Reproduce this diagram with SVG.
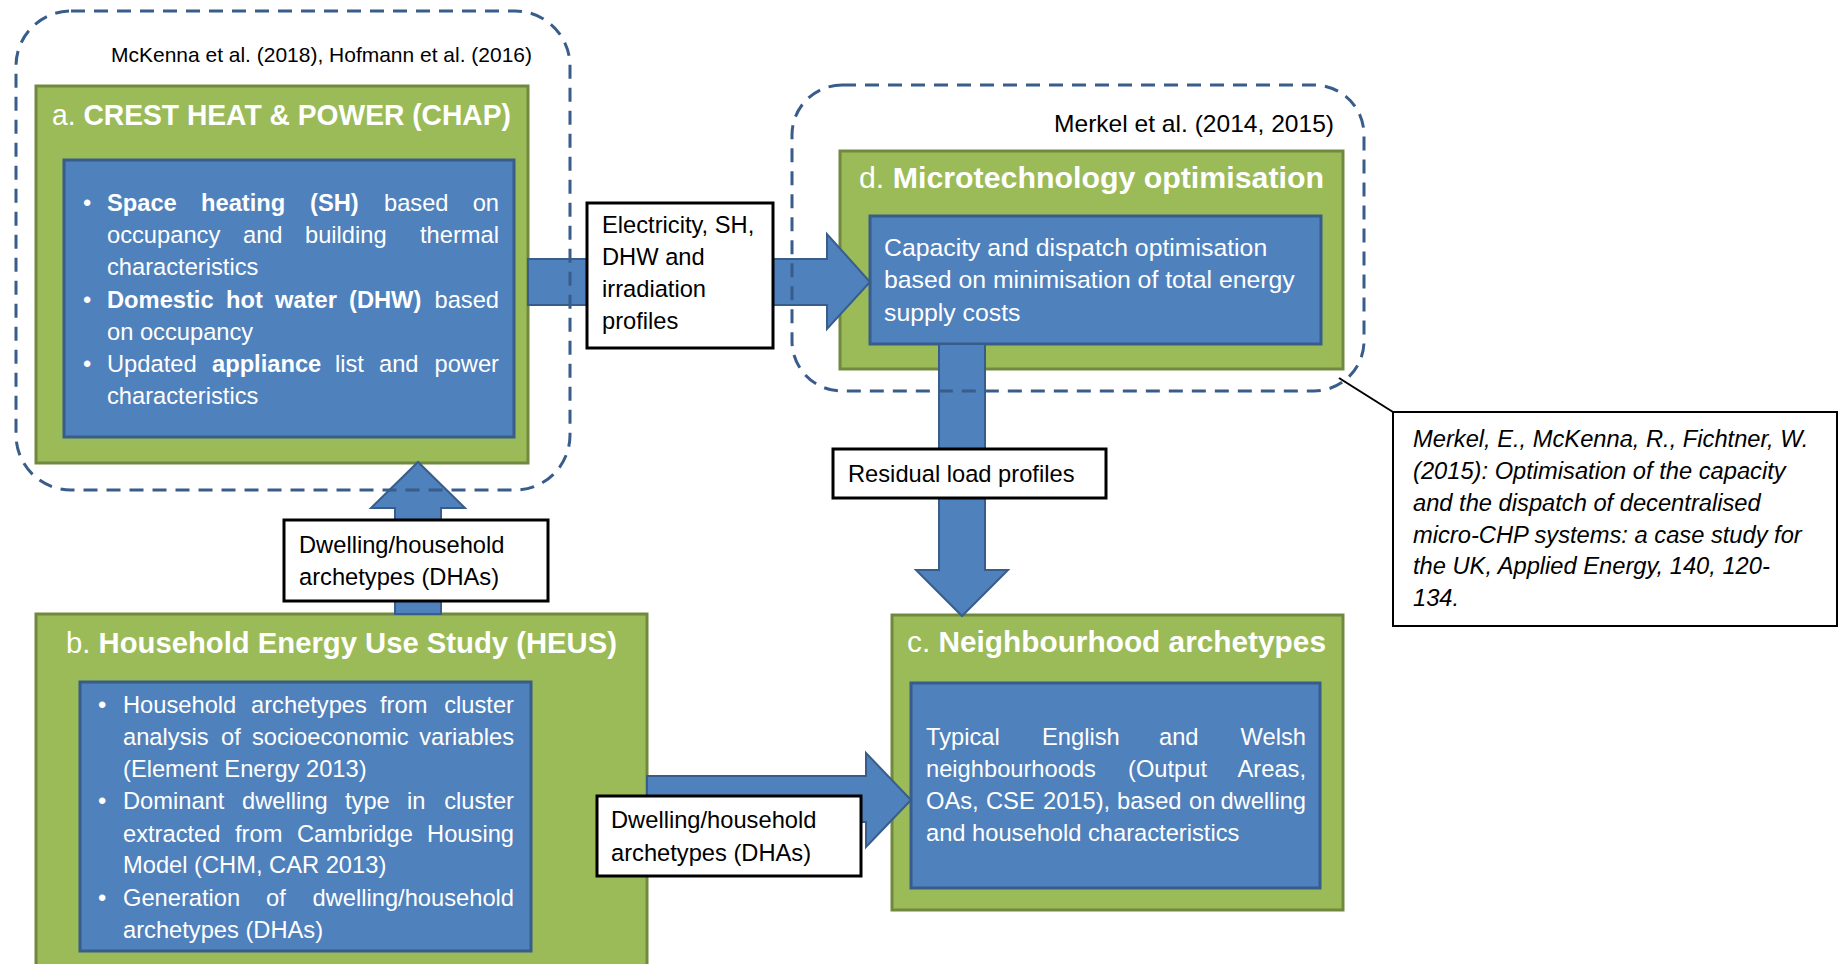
<svg xmlns="http://www.w3.org/2000/svg" width="1839" height="964" viewBox="0 0 1839 964">
<style>
.green{fill:#9BBB59;stroke:#71893F;stroke-width:3}
.blue{fill:#4F81BD;stroke:#385D8A;stroke-width:3}
.frame{fill:none;stroke:#385D8A;stroke-width:3;stroke-dasharray:14 9}
.lbl{fill:#fff;stroke:#000;stroke-width:3}
.ref{fill:#fff;stroke:#000;stroke-width:2}
.arrow{fill:#4F81BD;stroke:#385D8A;stroke-width:2;stroke-linejoin:miter}
text{font-family:"Liberation Sans",Arial,sans-serif}
.w{fill:#fff;font-size:23.7px}
.k{fill:#000;font-size:23.7px}
.t{fill:#fff;font-size:30px}
.b{font-weight:bold}
.it{font-style:italic}
.e{text-anchor:end}
</style>
<rect width="1839" height="964" fill="#fff"/>

<!-- Node a -->
<g id="node-a">
  <rect class="green" x="36" y="86" width="492" height="377"/>
  <text class="t" x="52" y="125" textLength="459" lengthAdjust="spacingAndGlyphs">a. <tspan class="b">CREST HEAT &amp; POWER (CHAP)</tspan></text>
  <rect class="blue" x="64" y="160" width="450" height="277"/>
  <text class="w" x="83" y="211">•</text>
  <text class="w" y="211"><tspan class="b" x="107">Space</tspan><tspan class="b" x="201">heating</tspan><tspan class="b" x="310">(SH)</tspan><tspan x="384">based</tspan><tspan class="e" x="499">on</tspan></text>
  <text class="w" y="243"><tspan x="107">occupancy</tspan><tspan x="243">and</tspan><tspan x="305">building</tspan><tspan class="e" x="499">thermal</tspan></text>
  <text class="w" x="107" y="275">characteristics</text>
  <text class="w" x="83" y="308">•</text>
  <text class="w" y="308"><tspan class="b" x="107">Domestic</tspan><tspan class="b" x="226">hot</tspan><tspan class="b" x="275">water</tspan><tspan class="b" x="349">(DHW)</tspan><tspan class="e" x="499">based</tspan></text>
  <text class="w" x="107" y="340">on occupancy</text>
  <text class="w" x="83" y="372">•</text>
  <text class="w" y="372"><tspan x="107">Updated</tspan><tspan class="b" x="212">appliance</tspan><tspan x="335">list</tspan><tspan x="379">and</tspan><tspan class="e" x="499">power</tspan></text>
  <text class="w" x="107" y="404">characteristics</text>
</g>

<!-- Node b -->
<g id="node-b">
  <rect class="green" x="36" y="614" width="611" height="370"/>
  <text class="t" x="66" y="653" textLength="551" lengthAdjust="spacingAndGlyphs">b. <tspan class="b">Household Energy Use Study (HEUS)</tspan></text>
  <rect class="blue" x="80" y="682" width="451" height="269"/>
  <text class="w" x="98" y="713">•</text>
  <text class="w" y="713"><tspan x="123">Household</tspan><tspan x="251">archetypes</tspan><tspan x="380">from</tspan><tspan class="e" x="514">cluster</tspan></text>
  <text class="w" y="745"><tspan x="123">analysis</tspan><tspan x="221">of</tspan><tspan x="252">socioeconomic</tspan><tspan class="e" x="514">variables</tspan></text>
  <text class="w" x="123" y="777">(Element Energy 2013)</text>
  <text class="w" x="98" y="809">•</text>
  <text class="w" y="809"><tspan x="123">Dominant</tspan><tspan x="242">dwelling</tspan><tspan x="345">type</tspan><tspan x="407">in</tspan><tspan class="e" x="514">cluster</tspan></text>
  <text class="w" y="842"><tspan x="123">extracted</tspan><tspan x="235">from</tspan><tspan x="297">Cambridge</tspan><tspan class="e" x="514">Housing</tspan></text>
  <text class="w" x="123" y="873">Model (CHM, CAR 2013)</text>
  <text class="w" x="98" y="906">•</text>
  <text class="w" y="906"><tspan x="123">Generation</tspan><tspan x="266">of</tspan><tspan class="e" x="514">dwelling/household</tspan></text>
  <text class="w" x="123" y="938">archetypes (DHAs)</text>
</g>

<!-- Node c -->
<g id="node-c">
  <rect class="green" x="892" y="615" width="451" height="295"/>
  <text class="t" x="907" y="652" textLength="419" lengthAdjust="spacingAndGlyphs">c. <tspan class="b">Neighbourhood archetypes</tspan></text>
  <rect class="blue" x="911" y="683" width="409" height="205"/>
  <text class="w" y="745"><tspan x="926">Typical</tspan><tspan x="1042">English</tspan><tspan x="1159">and</tspan><tspan class="e" x="1306">Welsh</tspan></text>
  <text class="w" y="777"><tspan x="926">neighbourhoods</tspan><tspan x="1128">(Output</tspan><tspan class="e" x="1306">Areas,</tspan></text>
  <text class="w" y="809"><tspan x="926">OAs,</tspan><tspan x="986">CSE</tspan><tspan x="1043">2015),</tspan><tspan x="1117">based</tspan><tspan x="1189">on</tspan><tspan class="e" x="1306">dwelling</tspan></text>
  <text class="w" x="926" y="841">and household characteristics</text>
</g>

<!-- Node d -->
<g id="node-d">
  <rect class="green" x="840" y="151" width="503" height="218"/>
  <text class="t" x="859" y="188" textLength="465" lengthAdjust="spacingAndGlyphs">d. <tspan class="b">Microtechnology optimisation</tspan></text>
  <rect class="blue" x="870" y="216" width="451" height="128"/>
  <text class="w" x="884" y="256" style="font-size:24.8px">Capacity and dispatch optimisation</text>
  <text class="w" x="884" y="288" style="font-size:24.8px">based on minimisation of total energy</text>
  <text class="w" x="884" y="321" style="font-size:24.8px">supply costs</text>
</g>

<!-- Connectors -->
<g id="connectors">
  <polygon class="arrow" points="528,259 827,259 827,234 870,282 827,329 827,305 528,305"/>
  <polygon class="arrow" points="395,614 395,508 371,508 418,462 465,508 441,508 441,614"/>
  <polygon class="arrow" points="939,344 939,570 916,570 962,616 1008,570 985,570 985,344"/>
  <polygon class="arrow" points="647,776 866,776 866,753 911,800 866,847 866,822 647,822"/>
  <line x1="1339" y1="378" x2="1393" y2="412" stroke="#000" stroke-width="2"/>
</g>

<!-- Source frames -->
<g id="frame-a">
  <rect class="frame" x="16" y="11" width="554" height="479" rx="55" ry="55"/>
  <text class="k e" x="532" y="62" style="font-size:21px" textLength="421" lengthAdjust="spacingAndGlyphs">McKenna et al. (2018), Hofmann et al. (2016)</text>
</g>
<g id="frame-d">
  <rect class="frame" x="792" y="85" width="572" height="306" rx="50" ry="50"/>
  <text class="k" x="1054" y="132" style="font-size:24px" textLength="280" lengthAdjust="spacingAndGlyphs">Merkel et al. (2014, 2015)</text>
</g>

<!-- Connector labels -->
<g id="label-profiles">
  <rect class="lbl" x="587" y="203" width="186" height="145"/>
  <text class="k" x="602" y="233">Electricity, SH,</text>
  <text class="k" x="602" y="265">DHW and</text>
  <text class="k" x="602" y="297">irradiation</text>
  <text class="k" x="602" y="329">profiles</text>
</g>
<g id="label-dha-up">
  <rect class="lbl" x="284" y="520" width="264" height="81"/>
  <text class="k" x="299" y="553">Dwelling/household</text>
  <text class="k" x="299" y="585">archetypes (DHAs)</text>
</g>
<g id="label-dha-right">
  <rect class="lbl" x="597" y="796" width="264" height="80"/>
  <text class="k" x="611" y="828">Dwelling/household</text>
  <text class="k" x="611" y="861">archetypes (DHAs)</text>
</g>
<g id="label-residual">
  <rect class="lbl" x="833" y="449" width="273" height="49"/>
  <text class="k" x="848" y="482">Residual load profiles</text>
</g>

<!-- Reference callout -->
<g id="callout-ref">
  <rect class="ref" x="1393" y="412" width="444" height="214"/>
  <text class="k it" x="1413" y="447">Merkel, E., McKenna, R., Fichtner, W.</text>
  <text class="k it" x="1413" y="479">(2015): Optimisation of the capacity</text>
  <text class="k it" x="1413" y="511">and the dispatch of decentralised</text>
  <text class="k it" x="1413" y="543">micro-CHP systems: a case study for</text>
  <text class="k it" x="1413" y="574">the UK, Applied Energy, 140, 120-</text>
  <text class="k it" x="1413" y="606">134.</text>
</g>
</svg>
